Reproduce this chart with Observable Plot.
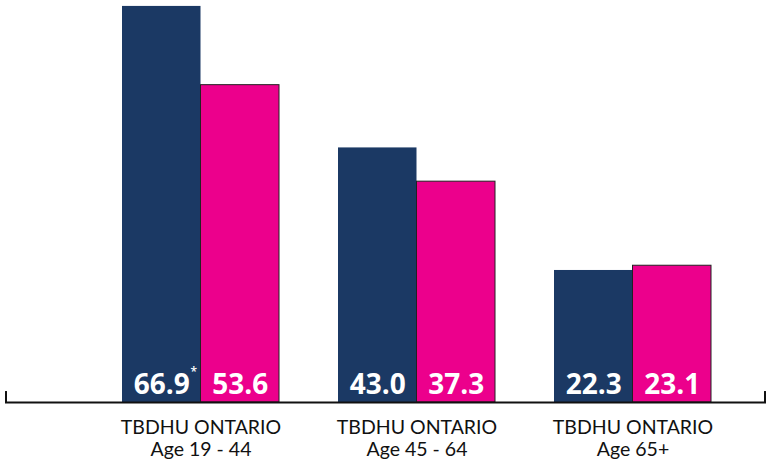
<!DOCTYPE html>
<html>
<head>
<meta charset="utf-8">
<script src="https://cdn.jsdelivr.net/npm/d3@7"></script>
<script src="https://cdn.jsdelivr.net/npm/@observablehq/plot@0.6"></script>
<style>
  html, body { margin: 0; padding: 0; background: #fff; }
  #chart svg { display: block; }
</style>
</head>
<body>
<div id="chart"></div>
<script>
const groups = ["Age 19 - 44", "Age 45 - 64", "Age 65+"];
const seriesNames = ["TBDHU", "ONTARIO"];
const tbdhu = [66.9, 43.0, 22.3];
const ontario = [53.6, 37.3, 23.1];
const tbdhuLabels = ["66.9", "43.0", "22.3"];
const ontarioLabels = ["53.6", "37.3", "23.1"];
const tbdhuNotes = ["*", "", ""];

const navy = "#1b3964";
const pink = "#ec008c";

const tData = groups.map((g, i) => ({group: g, value: tbdhu[i], label: tbdhuLabels[i], note: tbdhuNotes[i]}));
const oData = groups.map((g, i) => ({group: g, value: ontario[i], label: ontarioLabels[i]}));

const half = 78.5;
const valueStyle = {fill: "white", fontSize: 28, fontWeight: 700, fontFamily: "Open Sans", style: {letterSpacing: "-2px"}};

const chart = Plot.plot({
  width: 771,
  height: 462,
  marginTop: 0,
  marginBottom: 60,
  marginLeft: 5,
  marginRight: 5,
  x: {domain: groups, paddingInner: 0.273, paddingOuter: 0.398, align: 0.68, axis: null},
  y: {domain: [0, 67.9], axis: null},
  marks: [
    Plot.barY(tData, {x: "group", y: "value", fill: navy, insetRight: half}),
    Plot.barY(oData, {x: "group", y: "value", fill: pink, stroke: "#222", strokeWidth: 1, insetLeft: half}),
    Plot.ruleY([0], {stroke: "#111", strokeWidth: 2}),
    Plot.rect([0], {y1: -0.17, y2: 1.85, insetRight: 759, fill: "#111"}),
    Plot.rect([0], {y1: -0.17, y2: 1.85, insetLeft: 759, fill: "#111"}),
    Plot.text(tData, {x: "group", y: 0, text: "label", dx: -half / 2, dy: -9, lineAnchor: "bottom", ...valueStyle}),
    Plot.text(tData, {x: "group", y: 0, text: "note", dx: -half / 2 + 32, dy: -27, lineAnchor: "bottom",
      fill: "white", fontSize: 12, fontWeight: 600, fontFamily: "Open Sans"}),
    Plot.text(oData, {x: "group", y: 0, text: "label", dx: half / 2, dy: -9, lineAnchor: "bottom", ...valueStyle}),
    Plot.text(groups, {x: d => d, text: d => seriesNames.join(" ") + "\n" + d, frameAnchor: "bottom",
      lineAnchor: "top", dy: 17, lineHeight: 1.08, fontSize: 19.5, fontFamily: "Lato", fill: "#111"})
  ]
});
document.getElementById("chart").appendChild(chart);
</script>
</body>
</html>
